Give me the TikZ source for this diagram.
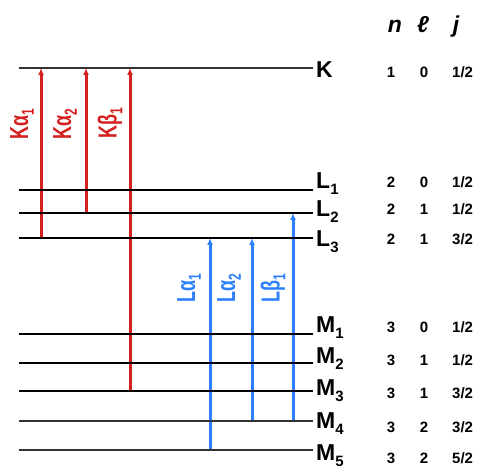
\documentclass[tikz,border=0pt]{standalone}
\usepackage{graphicx}
\usepackage{fontspec}
\setmainfont{Liberation Sans}
\usetikzlibrary{arrows.meta}
\definecolor{xred}{HTML}{D41F1F}
\definecolor{xblue}{HTML}{2B80FF}
\newcommand\lvsub[1]{\raisebox{-6pt}{\fontsize{15}{15}\selectfont #1}}
\newcommand\trsub[1]{\raisebox{-4pt}{\fontsize{12}{12}\selectfont #1}}
\begin{document}
\begin{tikzpicture}[x=1pt,y=-1pt,
  level/.style={line width=2pt, black},
  heavylevel/.style={line width=2.8pt, black!80},
  karrow/.style={xred, line width=3pt, -{Latex[length=7pt,width=6pt]}},
  larrow/.style={xblue, line width=3pt, -{Latex[length=7pt,width=6pt]}},
  lvlabel/.style={anchor=base west, inner sep=0pt, font=\fontsize{23}{23}\selectfont\bfseries},
  num/.style={anchor=base, inner sep=0pt, font=\fontsize{15}{15}\selectfont\bfseries},
  jnum/.style={anchor=base west, inner sep=0pt, font=\fontsize{15}{15}\selectfont\bfseries},
  head/.style={anchor=base, inner sep=0pt, font=\fontsize{23}{23}\selectfont\bfseries\itshape},
  trlabel/.style={rotate=90, inner sep=0pt, font=\fontsize{18}{18}\selectfont\bfseries}
]
\useasboundingbox (0,0) rectangle (482,470);

% level end points
\foreach \nm/\yy in {K/68, L1/190, L2/213, L3/238, M1/334, M2/363, M3/391, M4/421, M5/450} {
  \coordinate (\nm w) at (19,\yy);
  \coordinate (\nm e) at (313,\yy);
}

% transition arrows (drawn below the level lines)
\coordinate (ka1b) at (41,238);  \coordinate (ka1t) at (41,68);
\coordinate (ka2b) at (86,213);  \coordinate (ka2t) at (86,68);
\coordinate (kb1b) at (130,391); \coordinate (kb1t) at (130,68);
\coordinate (la1b) at (210,450); \coordinate (la1t) at (210,238);
\coordinate (la2b) at (252,421); \coordinate (la2t) at (252,238);
\coordinate (lb1b) at (293,421); \coordinate (lb1t) at (293,213);

\draw[karrow] (ka1b) -- (ka1t);
\draw[karrow] (ka2b) -- (ka2t);
\draw[karrow] (kb1b) -- (kb1t);
\draw[larrow] (la1b) -- (la1t);
\draw[larrow] (la2b) -- (la2t);
\draw[larrow] (lb1b) -- (lb1t);

% levels
\draw[heavylevel] (Kw) -- (Ke);
\draw[level] (L1w) -- (L1e);
\draw[level] (L2w) -- (L2e);
\draw[level] (L3w) -- (L3e);
\draw[level] (M1w) -- (M1e);
\draw[level] (M2w) -- (M2e);
\draw[level] (M3w) -- (M3e);
\draw[heavylevel] (M4w) -- (M4e);
\draw[heavylevel] (M5w) -- (M5e);

% transition labels
\node[trlabel, xred] (tka1) at (22,124) {\scalebox{1}[1.45]{Kα\trsub{1}}};
\node[trlabel, xred] (tka2) at (65,124) {\scalebox{1}[1.45]{Kα\trsub{2}}};
\node[trlabel, xred] (tkb1) at (110,123) {\scalebox{1}[1.45]{Kβ\trsub{1}}};
\node[trlabel, xblue] (tla1) at (189,288) {\scalebox{1}[1.45]{Lα\trsub{1}}};
\node[trlabel, xblue] (tla2) at (229,288) {\scalebox{1}[1.45]{Lα\trsub{2}}};
\node[trlabel, xblue] (tlb1) at (273,288) {\scalebox{1}[1.45]{Lβ\trsub{1}}};

% level labels
\node[lvlabel] (lK)  at (316,78)  {K};
\node[lvlabel] (lL1) at (316,189) {L\lvsub{1}};
\node[lvlabel] (lL2) at (316,217) {L\lvsub{2}};
\node[lvlabel] (lL3) at (316,247) {L\lvsub{3}};
\node[lvlabel] (lM1) at (316,333) {M\lvsub{1}};
\node[lvlabel] (lM2) at (316,363) {M\lvsub{2}};
\node[lvlabel] (lM3) at (316,395) {M\lvsub{3}};
\node[lvlabel] (lM4) at (316,428) {M\lvsub{4}};
\node[lvlabel] (lM5) at (316,460) {M\lvsub{5}};

% headers
\node[head] (hn) at (395,33) {n};
\node[head] (hl) at (423,33) {ℓ};
\node[head] (hj) at (456,33) {j};

% quantum numbers
\foreach \r/\yy/\n/\l/\j in {K/78/1/0/1\slash 2, L1/188/2/0/1\slash 2, L2/215/2/1/1\slash 2, L3/245/2/1/3\slash 2,
  M1/333/3/0/1\slash 2, M2/365/3/1/1\slash 2, M3/398/3/1/3\slash 2, M4/432/3/2/3\slash 2, M5/463/3/2/5\slash 2} {
  \node[num] (n\r) at (391,\yy) {\n};
  \node[num] (l\r) at (424,\yy) {\l};
  \node[jnum] (j\r) at (452,\yy) {\j};
}
\end{tikzpicture}
\end{document}
